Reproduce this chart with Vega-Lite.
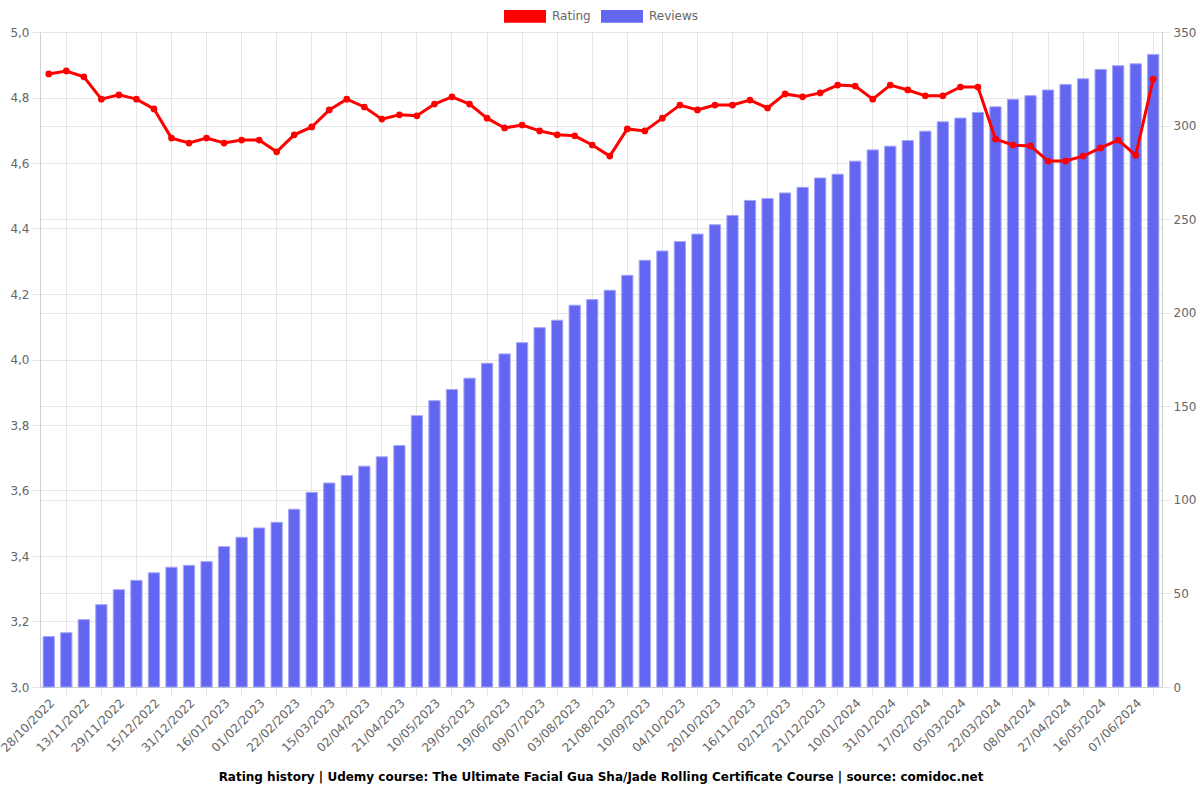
{
  "$schema": "https://vega.github.io/schema/vega-lite/v6.json",
  "width": 1122,
  "height": 655,
  "autosize": {"type": "none"},
  "padding": {"left": 40, "top": 32, "right": 38, "bottom": 113},
  "background": "white",
  "config": {
    "font": "DejaVu Sans",
    "view": {"stroke": null},
    "axis": {
      "gridColor": "#e6e6e6",
      "tickColor": "#e6e6e6",
      "domainColor": "#cfcfcf",
      "labelColor": "#666666",
      "labelFontSize": 12,
      "labelFont": "DejaVu Sans",
      "title": null
    }
  },
  "title": {
    "text": "Rating history | Udemy course: The Ultimate Facial Gua Sha/Jade Rolling Certificate Course | source: comidoc.net",
    "orient": "bottom",
    "anchor": "middle",
    "fontSize": 12,
    "fontWeight": "bold",
    "color": "#000000",
    "font": "DejaVu Sans",
    "offset": 18
  },
  "data": {
    "values": [
      {"date": "28/10/2022", "rating": 4.872, "reviews": 27},
      {"date": "05/11/2022", "rating": 4.881, "reviews": 29},
      {"date": "13/11/2022", "rating": 4.863, "reviews": 36},
      {"date": "21/11/2022", "rating": 4.795, "reviews": 44},
      {"date": "29/11/2022", "rating": 4.808, "reviews": 52},
      {"date": "07/12/2022", "rating": 4.795, "reviews": 57},
      {"date": "15/12/2022", "rating": 4.765, "reviews": 61},
      {"date": "23/12/2022", "rating": 4.676, "reviews": 64},
      {"date": "31/12/2022", "rating": 4.661, "reviews": 65},
      {"date": "08/01/2023", "rating": 4.676, "reviews": 67},
      {"date": "16/01/2023", "rating": 4.661, "reviews": 75},
      {"date": "24/01/2023", "rating": 4.670, "reviews": 80},
      {"date": "01/02/2023", "rating": 4.670, "reviews": 85},
      {"date": "11/02/2023", "rating": 4.634, "reviews": 88},
      {"date": "22/02/2023", "rating": 4.686, "reviews": 95},
      {"date": "05/03/2023", "rating": 4.710, "reviews": 104},
      {"date": "15/03/2023", "rating": 4.762, "reviews": 109},
      {"date": "24/03/2023", "rating": 4.795, "reviews": 113},
      {"date": "02/04/2023", "rating": 4.771, "reviews": 118},
      {"date": "11/04/2023", "rating": 4.734, "reviews": 123},
      {"date": "21/04/2023", "rating": 4.747, "reviews": 129},
      {"date": "30/04/2023", "rating": 4.744, "reviews": 145},
      {"date": "10/05/2023", "rating": 4.780, "reviews": 153},
      {"date": "19/05/2023", "rating": 4.802, "reviews": 159},
      {"date": "29/05/2023", "rating": 4.780, "reviews": 165},
      {"date": "08/06/2023", "rating": 4.737, "reviews": 173},
      {"date": "19/06/2023", "rating": 4.707, "reviews": 178},
      {"date": "29/06/2023", "rating": 4.716, "reviews": 184},
      {"date": "09/07/2023", "rating": 4.698, "reviews": 192},
      {"date": "21/07/2023", "rating": 4.686, "reviews": 196},
      {"date": "03/08/2023", "rating": 4.683, "reviews": 204},
      {"date": "12/08/2023", "rating": 4.655, "reviews": 207},
      {"date": "21/08/2023", "rating": 4.621, "reviews": 212},
      {"date": "31/08/2023", "rating": 4.704, "reviews": 220},
      {"date": "10/09/2023", "rating": 4.698, "reviews": 228},
      {"date": "22/09/2023", "rating": 4.737, "reviews": 233},
      {"date": "04/10/2023", "rating": 4.777, "reviews": 238},
      {"date": "12/10/2023", "rating": 4.762, "reviews": 242},
      {"date": "20/10/2023", "rating": 4.777, "reviews": 247},
      {"date": "02/11/2023", "rating": 4.777, "reviews": 252},
      {"date": "16/11/2023", "rating": 4.792, "reviews": 260},
      {"date": "24/11/2023", "rating": 4.768, "reviews": 261},
      {"date": "02/12/2023", "rating": 4.811, "reviews": 264},
      {"date": "11/12/2023", "rating": 4.802, "reviews": 267},
      {"date": "21/12/2023", "rating": 4.814, "reviews": 272},
      {"date": "31/12/2023", "rating": 4.838, "reviews": 274},
      {"date": "10/01/2024", "rating": 4.835, "reviews": 281},
      {"date": "20/01/2024", "rating": 4.795, "reviews": 287},
      {"date": "31/01/2024", "rating": 4.838, "reviews": 289},
      {"date": "08/02/2024", "rating": 4.823, "reviews": 292},
      {"date": "17/02/2024", "rating": 4.805, "reviews": 297},
      {"date": "25/02/2024", "rating": 4.805, "reviews": 302},
      {"date": "05/03/2024", "rating": 4.832, "reviews": 304},
      {"date": "13/03/2024", "rating": 4.832, "reviews": 307},
      {"date": "22/03/2024", "rating": 4.673, "reviews": 310},
      {"date": "30/03/2024", "rating": 4.655, "reviews": 314},
      {"date": "08/04/2024", "rating": 4.652, "reviews": 316},
      {"date": "17/04/2024", "rating": 4.606, "reviews": 319},
      {"date": "27/04/2024", "rating": 4.606, "reviews": 322},
      {"date": "06/05/2024", "rating": 4.621, "reviews": 325},
      {"date": "16/05/2024", "rating": 4.646, "reviews": 330},
      {"date": "27/05/2024", "rating": 4.670, "reviews": 332},
      {"date": "07/06/2024", "rating": 4.624, "reviews": 333},
      {"date": "17/06/2024", "rating": 4.856, "reviews": 338}
    ]
  },
  "layer": [
    {
      "mark": {"type": "bar", "stroke": "#a3a5f7", "strokeWidth": 1},
      "encoding": {
        "x": {
          "field": "date",
          "type": "ordinal",
          "sort": null,
          "scale": {"paddingInner": 0.36, "paddingOuter": 0.18},
          "axis": {
            "orient": "bottom",
            "values": ["05/11/2022","21/11/2022","07/12/2022","23/12/2022","08/01/2023","24/01/2023","11/02/2023","05/03/2023","24/03/2023","11/04/2023","30/04/2023","19/05/2023","08/06/2023","29/06/2023","21/07/2023","12/08/2023","31/08/2023","22/09/2023","12/10/2023","02/11/2023","24/11/2023","11/12/2023","31/12/2023","20/01/2024","08/02/2024","25/02/2024","13/03/2024","30/03/2024","17/04/2024","06/05/2024","27/05/2024","17/06/2024"],
            "labels": false,
            "ticks": true,
            "tickSize": 8,
            "grid": true,
            "domain": true
          }
        },
        "y": {
          "field": "reviews",
          "type": "quantitative",
          "scale": {"domain": [0, 350], "nice": false},
          "axis": {
            "orient": "right",
            "values": [0, 50, 100, 150, 200, 250, 300, 350],
            "tickSize": 8,
            "labelPadding": 3,
            "grid": true,
            "domain": true
          }
        },
        "color": {
          "datum": "Reviews",
          "type": "nominal",
          "scale": {"domain": ["Rating", "Reviews"], "range": ["#ff0000", "#6366f1"]},
          "legend": {
            "orient": "none",
            "legendX": 464,
            "legendY": -37,
            "direction": "horizontal",
            "title": null,
            "symbolType": "M-1,-0.3L1,-0.3L1,0.3L-1,0.3Z",
            "symbolSize": 1764,
            "symbolStrokeWidth": 0,
            "symbolOpacity": 1,
            "labelFontSize": 12,
            "labelColor": "#666666",
            "labelFont": "DejaVu Sans",
            "columnPadding": 10,
            "labelOffset": 6
          }
        }
      }
    },
    {
      "mark": {"type": "line", "strokeWidth": 3, "point": {"filled": true, "size": 45}},
      "encoding": {
        "x": {
          "field": "date",
          "type": "ordinal",
          "sort": null,
          "axis": {
            "orient": "bottom",
            "values": ["28/10/2022","13/11/2022","29/11/2022","15/12/2022","31/12/2022","16/01/2023","01/02/2023","22/02/2023","15/03/2023","02/04/2023","21/04/2023","10/05/2023","29/05/2023","19/06/2023","09/07/2023","03/08/2023","21/08/2023","10/09/2023","04/10/2023","20/10/2023","16/11/2023","02/12/2023","21/12/2023","10/01/2024","31/01/2024","17/02/2024","05/03/2024","22/03/2024","08/04/2024","27/04/2024","16/05/2024","07/06/2024"],
            "labelAngle": -45,
            "labelPadding": 10,
            "ticks": false,
            "grid": false,
            "domain": false
          }
        },
        "y": {
          "field": "rating",
          "type": "quantitative",
          "scale": {"domain": [3, 5], "nice": false, "zero": false},
          "axis": {
            "orient": "left",
            "values": [3, 3.2, 3.4, 3.6, 3.8, 4, 4.2, 4.4, 4.6, 4.8, 5],
            "labelExpr": "replace(format(datum.value, '.1f'), '.', ',')",
            "tickSize": 8,
            "labelPadding": 3,
            "grid": true,
            "domain": true
          }
        },
        "color": {"datum": "Rating", "type": "nominal"}
      }
    }
  ],
  "resolve": {"scale": {"y": "independent"}, "axis": {"x": "independent"}}
}
